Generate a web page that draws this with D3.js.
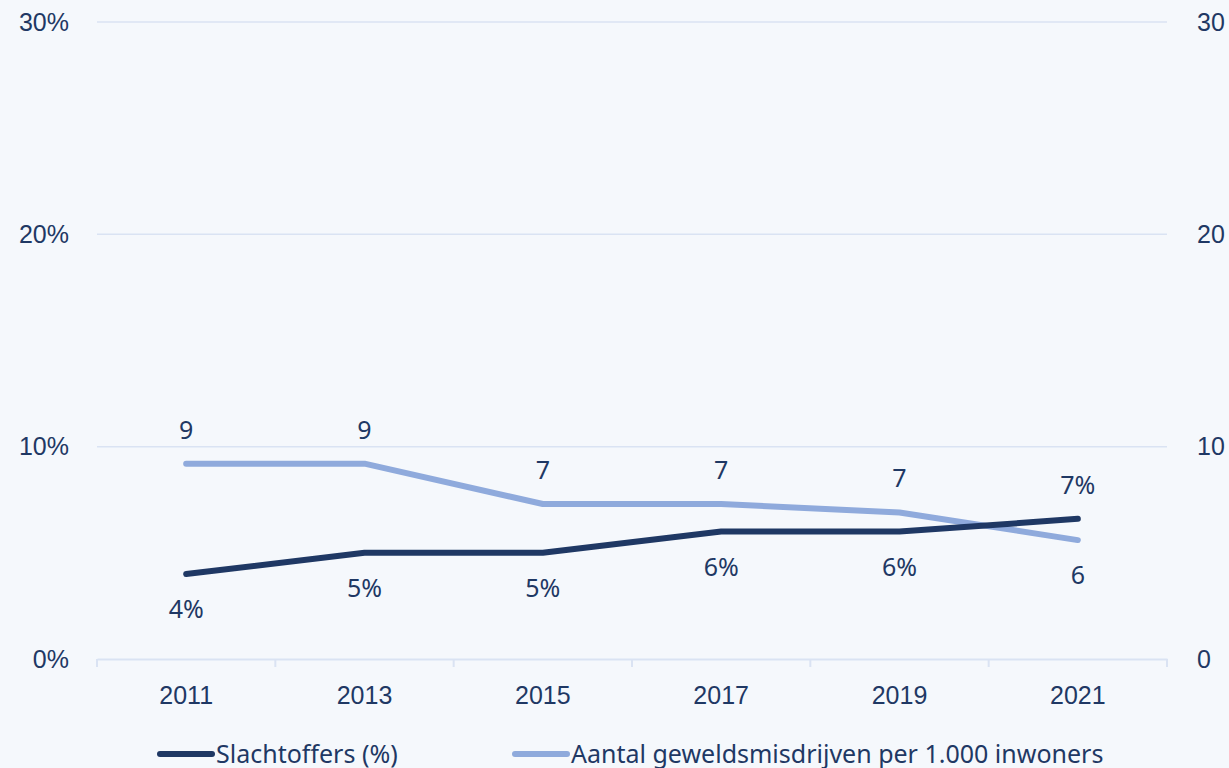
<!DOCTYPE html>
<html>
<head>
<meta charset="utf-8">
<script src="https://cdn.jsdelivr.net/npm/d3@7"></script>
<style>
  html, body { margin: 0; padding: 0; background: #f5f8fc; }
  svg { display: block; font-family: "Noto Sans", "Open Sans", sans-serif; }
</style>
</head>
<body>
<svg id="chart" width="1229" height="768"></svg>
<script>
// Jaren en reeksen
const years = ["2011", "2013", "2015", "2017", "2019", "2021"];
const slachtoffers = [4.0, 5.0, 5.0, 6.0, 6.0, 6.6];          // %
const geweldsmisdrijven = [9.2, 9.2, 7.3, 7.3, 6.9, 5.6];     // per 1.000 inwoners
const leftTicks = [0, 10, 20, 30];
const rightTicks = [0, 10, 20, 30];
const seriesNames = ["Slachtoffers (%)", "Aantal geweldsmisdrijven per 1.000 inwoners"];

const dark = "#1f3864";
const light = "#8faadc";
const textColor = "#1f3864";
const gridColor = "#dae3f3";
const fontSize = "25px";

const svg = d3.select("#chart");
const plot = { left: 97, right: 1167, top: 22, bottom: 659 };

const x = d3.scaleBand().domain(years).range([plot.left, plot.right]);
const yL = d3.scaleLinear().domain([0, 30]).range([plot.bottom, plot.top]);
const yR = d3.scaleLinear().domain([0, 30]).range([plot.bottom, plot.top]);

// Rasterlijnen
svg.append("g").selectAll("line").data(leftTicks.filter(d => d > 0)).join("line")
  .attr("x1", plot.left).attr("x2", plot.right)
  .attr("y1", d => yL(d)).attr("y2", d => yL(d))
  .attr("stroke", gridColor).attr("stroke-width", 1.5);

// Linker as
const leftAxis = svg.append("g").attr("transform", `translate(${plot.left - 28},0)`)
  .call(d3.axisLeft(yL).tickValues(leftTicks).tickFormat(d => d + "%").tickSize(0).tickPadding(0));
leftAxis.select(".domain").remove();
leftAxis.selectAll("text").attr("fill", textColor).style("font-size", fontSize);

// Rechter as
const rightAxis = svg.append("g").attr("transform", `translate(${plot.right + 30},0)`)
  .call(d3.axisRight(yR).tickValues(rightTicks).tickFormat(d3.format("d")).tickSize(0).tickPadding(0));
rightAxis.select(".domain").remove();
rightAxis.selectAll("text").attr("fill", textColor).style("font-size", fontSize);

// X-as
const xAxis = svg.append("g").attr("transform", `translate(0,${plot.bottom})`)
  .call(d3.axisBottom(x).tickSize(0).tickPadding(27));
xAxis.select(".domain").attr("stroke", gridColor).attr("stroke-width", 2);
xAxis.selectAll("text").attr("fill", textColor).style("font-size", fontSize);
// Scheidingsstreepjes tussen de jaren
const bounds = years.map(y => x(y)).concat([plot.right]);
svg.append("g").selectAll("line").data(bounds).join("line")
  .attr("x1", d => d).attr("x2", d => d)
  .attr("y1", plot.bottom).attr("y2", plot.bottom + 8)
  .attr("stroke", gridColor).attr("stroke-width", 2);

const cx = d => x(d) + x.bandwidth() / 2;

// Lijnen
const lineL = d3.line().x((d, i) => cx(years[i])).y(d => yL(d));
const lineR = d3.line().x((d, i) => cx(years[i])).y(d => yR(d));

svg.append("path").datum(geweldsmisdrijven).attr("d", lineR)
  .attr("fill", "none").attr("stroke", light).attr("stroke-width", 6)
  .attr("stroke-linecap", "round").attr("stroke-linejoin", "round");
svg.append("path").datum(slachtoffers).attr("d", lineL)
  .attr("fill", "none").attr("stroke", dark).attr("stroke-width", 6)
  .attr("stroke-linecap", "round").attr("stroke-linejoin", "round");

// Waardelabels: de hoogste lijn krijgt het label erboven, de laagste eronder
const labels = [];
years.forEach((yr, i) => {
  const pL = yL(slachtoffers[i]);
  const pR = yR(geweldsmisdrijven[i]);
  const darkAbove = pL < pR;
  labels.push({ x: cx(yr), y: pL, above: darkAbove, text: d3.format(".0f")(slachtoffers[i]) + "%" });
  labels.push({ x: cx(yr), y: pR, above: !darkAbove, text: d3.format(".0f")(geweldsmisdrijven[i]) });
});
svg.append("g").selectAll("text").data(labels).join("text")
  .attr("x", d => d.x)
  .attr("y", d => d.above ? d.y - 25 : d.y + 44)
  .attr("text-anchor", "middle")
  .attr("fill", textColor).style("font-size", fontSize)
  .text(d => d.text);

// Legenda
const legend = [
  { name: seriesNames[0], color: dark, x: 160 },
  { name: seriesNames[1], color: light, x: 515 }
];
const lg = svg.append("g").selectAll("g").data(legend).join("g")
  .attr("transform", d => `translate(${d.x},754)`);
lg.append("line").attr("x1", 0).attr("x2", 52).attr("y1", 0).attr("y2", 0)
  .attr("stroke", d => d.color).attr("stroke-width", 6).attr("stroke-linecap", "round");
lg.append("text").attr("x", 56).attr("y", 9)
  .attr("fill", textColor).style("font-size", fontSize)
  .text(d => d.name);
</script>
</body>
</html>
